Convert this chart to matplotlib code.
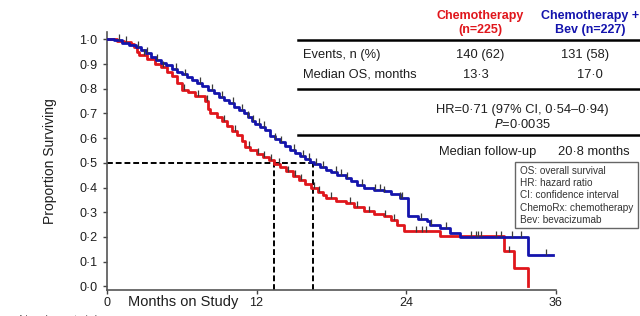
import matplotlib
matplotlib.use('Agg')
import matplotlib.pyplot as plt
from matplotlib.patches import Rectangle
import numpy as np

plt.rcParams['font.family'] = ['Liberation Sans', 'DejaVu Sans']

# Kaplan-Meier steps (months, proportion surviving)
chemo_t = [0, 0.8, 1.4, 1.9, 2.2, 2.4, 2.6, 3.2, 3.85, 4.3, 4.8, 5.2, 5.6, 6.0, 6.5, 7.1,
           7.9, 8.1, 8.3, 8.8, 9.2, 9.6, 10.0, 10.4, 10.8, 11.1, 11.5, 12.0, 12.5, 13.0,
           13.4, 13.9, 14.4, 14.95, 15.4, 15.9, 16.4, 16.9, 17.3, 17.6, 18.4, 19.2, 19.8,
           20.6, 21.4, 22.2, 22.8, 23.3, 23.8, 26.7, 31.9, 32.7, 33.8]
chemo_s = [1.0, 0.995, 0.99, 0.98, 0.97, 0.95, 0.935, 0.92, 0.90, 0.888, 0.87, 0.85, 0.825,
           0.797, 0.785, 0.77, 0.752, 0.718, 0.70, 0.685, 0.67, 0.65, 0.63, 0.612, 0.588,
           0.566, 0.553, 0.535, 0.522, 0.51, 0.497, 0.482, 0.465, 0.445, 0.43, 0.413, 0.398,
           0.383, 0.37, 0.357, 0.347, 0.337, 0.322, 0.303, 0.292, 0.283, 0.268, 0.249,
           0.222, 0.202, 0.141, 0.074, 0.0]
chemo_cens = [1.5, 3.0, 4.5, 6.2, 7.3, 8.0, 9.4, 10.3, 11.4, 12.1, 12.6, 13.2, 13.8, 14.5,
              15.1, 15.6, 16.6, 17.0, 18.0, 19.5, 20.1, 21.0, 22.3, 23.0, 24.8, 25.3, 25.6,
              32.3]

bev_t = [0, 0.6, 1.2, 1.8, 2.3, 2.7, 3.1, 3.5, 3.9, 4.3, 4.7, 5.2, 5.6, 6.0, 6.4, 6.8,
         7.2, 7.6, 8.1, 8.6, 9.0, 9.4, 9.8, 10.2, 10.6, 11.0, 11.3, 11.6, 11.9, 12.3, 12.7,
         13.1, 13.5, 13.9, 14.3, 14.7, 15.1, 15.5, 15.9, 16.3, 16.6, 17.1, 17.6, 18.0,
         18.5, 19.2, 19.6, 20.1, 20.6, 21.4, 22.2, 22.8, 23.5, 24.2, 25.0, 25.7, 25.9,
         26.7, 27.5, 28.3, 33.8, 35.8]
bev_s = [1.0, 0.996, 0.985, 0.978, 0.97, 0.958, 0.945, 0.93, 0.918, 0.905, 0.895, 0.882,
         0.87, 0.858, 0.846, 0.835, 0.822, 0.81, 0.795, 0.782, 0.768, 0.755, 0.742, 0.728,
         0.714, 0.70, 0.685, 0.668, 0.657, 0.645, 0.632, 0.61, 0.597, 0.583, 0.568, 0.553,
         0.54, 0.527, 0.515, 0.503, 0.497, 0.484, 0.472, 0.463, 0.452, 0.438, 0.425, 0.412,
         0.398, 0.39, 0.384, 0.372, 0.357, 0.284, 0.274, 0.263, 0.249, 0.236, 0.216, 0.20,
         0.128, 0.128]
bev_cens = [1.0, 2.5, 3.2, 4.0, 5.5, 6.3, 7.5, 8.4, 9.2, 10.1, 10.8, 11.3, 11.7, 12.2, 12.6,
            13.5, 14.0, 15.0, 15.7, 16.2, 16.8, 17.3, 18.4, 18.8, 19.3, 20.5, 21.5, 21.9,
            22.2, 23.5, 23.7, 25.2, 26.0, 27.2, 29.2, 29.6, 29.8, 30.0, 31.2, 31.6, 32.5,
            33.2, 35.2]

medians = [13.4, 16.5]
yticks = [0.0, 0.1, 0.2, 0.3, 0.4, 0.5, 0.6, 0.7, 0.8, 0.9, 1.0]
ytick_labels = ['0·0', '0·1', '0·2', '0·3', '0·4', '0·5', '0·6', '0·7', '0·8', '0·9', '1·0']
xticks = [0, 12, 24, 36]

RED = '#e0161c'
BLUE = '#1414ad'
TXT = '#1e1e1e'


def surv_at(times, surv, t):
    i = np.searchsorted(times, t, side='right') - 1
    return np.array(surv)[i]


fig = plt.figure(figsize=(6.4, 3.16), dpi=100)
ax = fig.add_axes([107 / 640, 1 - 290 / 316, (555.5 - 107) / 640, (290 - 32) / 316])

# median guides
ax.plot([0, medians[1]], [0.5, 0.5], color='black', ls=(0, (3, 1.5)), lw=1.4, zorder=1)
for m in medians:
    ax.plot([m, m], [-0.015, 0.5], color='black', ls=(0, (3, 1.5)), lw=1.4, zorder=1)

ax.step(chemo_t, chemo_s, where='post', color=RED, lw=2, zorder=3)
ax.step(bev_t, bev_s, where='post', color=BLUE, lw=2, zorder=3)

ax.plot(chemo_cens, surv_at(chemo_t, chemo_s, chemo_cens) + 0.012, ls='none', marker='|',
        ms=5, mew=0.9, color='#3a3a3a', zorder=4)
ax.plot(bev_cens, surv_at(bev_t, bev_s, bev_cens) + 0.012, ls='none', marker='|',
        ms=5, mew=0.9, color='#3a3a3a', zorder=4)

ax.set_xlim(0, 36)
ax.set_ylim(-0.015, 1.03)
ax.set_yticks(yticks)
ax.set_yticklabels(ytick_labels)
ax.set_xticks(xticks)
ax.tick_params(labelsize=9, length=3, width=1, colors='#444444', pad=2)
ax.tick_params(axis='y', pad=4)
ax.tick_params(axis='both', labelcolor=TXT)
for s in ['top', 'right']:
    ax.spines[s].set_visible(False)
for s in ['left', 'bottom']:
    ax.spines[s].set_color('#555555')
    ax.spines[s].set_linewidth(1.2)
ax.set_ylabel('Proportion Surviving', fontsize=10, color=TXT)
ax.yaxis.set_label_coords(-50 / 448.5, 0.5)


def ft(x, y, s, **kw):
    fig.text(x / 640, 1 - y / 316, s, va='center', **kw)


ft(183, 302, 'Months on Study', ha='center', fontsize=10.5, color=TXT)
ft(60, 321, 'Number at risk', ha='center', fontsize=9, color='#777777')

# summary table
for y in [40, 89, 135]:
    fig.add_artist(plt.Line2D([298 / 640, 1], [1 - y / 316] * 2, color='black', lw=1.8))
ft(480, 16, 'Chemotherapy', ha='center', fontsize=9, weight='bold', color=RED)
ft(480, 30, '(n=225)', ha='center', fontsize=9, weight='bold', color=RED)
ft(590, 16, 'Chemotherapy +', ha='center', fontsize=9, weight='bold', color=BLUE)
ft(590, 30, 'Bev (n=227)', ha='center', fontsize=9, weight='bold', color=BLUE)
ft(303, 55, 'Events, n (%)', ha='left', fontsize=9.3, color=TXT)
ft(480, 55, '140 (62)', ha='center', fontsize=9.3, color=TXT)
ft(585, 55, '131 (58)', ha='center', fontsize=9.3, color=TXT)
ft(303, 75, 'Median OS, months', ha='left', fontsize=9.3, color=TXT)
ft(476, 75, '13·3', ha='center', fontsize=9.3, color=TXT)
ft(590, 75, '17·0', ha='center', fontsize=9.3, color=TXT)
ft(522, 110, 'HR=0·71 (97% CI, 0·54–0·94)', ha='center', fontsize=9.3, color=TXT)
ft(522, 125, '$\\it{P}$=0·0035', ha='center', fontsize=9.3, color=TXT)
ft(488, 152, 'Median follow-up', ha='center', fontsize=9.3, color=TXT)
ft(594, 152, '20·8 months', ha='center', fontsize=9.3, color=TXT)

# abbreviations box
fig.add_artist(Rectangle((515 / 640, 1 - 228 / 316), 123 / 640, 66 / 316, facecolor='white',
                         edgecolor='#666666', lw=1, zorder=5))
abbrev = ['OS: overall survival', 'HR: hazard ratio', 'CI: confidence interval',
          'ChemoRx: chemotherapy', 'Bev: bevacizumab']
for i, a in enumerate(abbrev):
    fig.text(520 / 640, 1 - (171 + 12.2 * i) / 316, a, va='center', fontsize=7.2,
             color='#333333', zorder=6)

fig.savefig('out.png', dpi=100)
